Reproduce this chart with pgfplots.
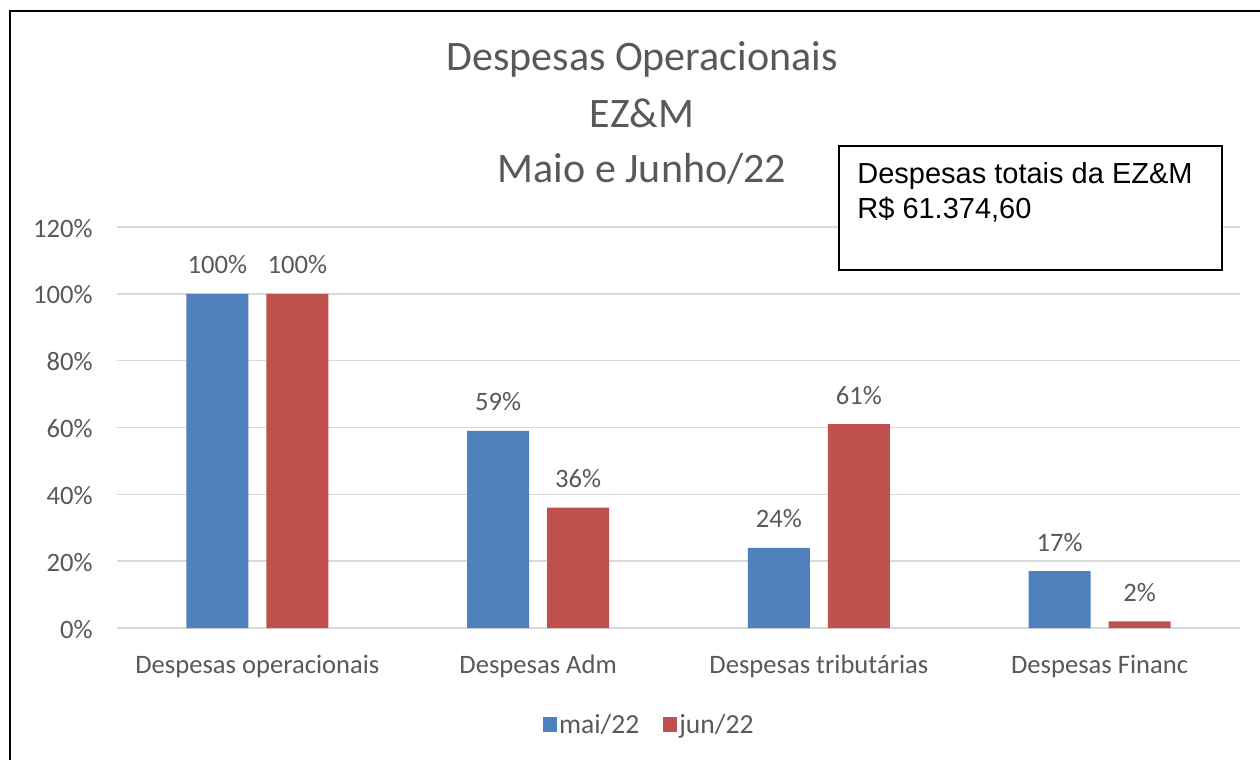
\documentclass[border=0pt]{standalone}
\usepackage{fontspec}
\setmainfont{Carlito}
\newfontfamily\arial{Liberation Sans}
\usepackage{pgfplots}
\pgfplotsset{compat=1.18}
\definecolor{barblue}{HTML}{4F81BD}
\definecolor{barred}{HTML}{C0504D}
\definecolor{txtgray}{HTML}{595959}
\definecolor{gridgray}{HTML}{D9D9D9}

\begin{document}
\begin{tikzpicture}[x=0.5pt,y=-0.5pt]
\useasboundingbox (0,0) rectangle (1260,760);
\fill[white] (0,0) rectangle (1260,760);
\coordinate (O) at (117,628);

\begin{axis}[
    at={(O)}, anchor=south west,
    scale only axis,
    width=561.5pt, height=200.5pt,
    ybar=9pt, bar width=31pt,
    xmin=-0.5, xmax=3.5,
    ymin=0, ymax=1.2,
    enlargelimits=false,
    axis line style={draw=none},
    major tick length=0pt,
    ymajorgrids,
    grid style={gridgray, line width=0.8pt},
    xtick={0,1,2,3},
    xticklabels={Despesas operacionais, Despesas Adm, Despesas tribut\'arias, Despesas Financ},
    ytick={0,0.2,0.4,0.6,0.8,1.0,1.2},
    yticklabels={0\%,20\%,40\%,60\%,80\%,100\%,120\%},
    tick label style={font=\fontsize{13.3}{15}\selectfont, text=txtgray, inner sep=0pt},
    xticklabel style={anchor=base, yshift=-22.5pt},
    yticklabel style={anchor=base east, xshift=-12pt, yshift=-5pt},
    point meta=explicit symbolic,
    nodes near coords,
    every node near coord/.append style={font=\fontsize{13.3}{15}\selectfont, text=txtgray,
        anchor=base, inner sep=0pt, yshift=10pt},
    legend columns=2,
    legend style={at={(0.474,-0.244)}, anchor=center, draw=none, fill=none,
        font=\fontsize{13.8}{15}\selectfont, text=txtgray,
        /tikz/every even column/.append style={column sep=11pt},
        nodes={inner sep=1pt}},
    legend image code/.code={\fill[#1] (0pt,-3pt) rectangle (7pt,4.5pt);},
]
% mai/22
\addplot[fill=barblue, draw=none]
    coordinates {(0,1.00) [100\%] (1,0.59) [59\%] (2,0.24) [24\%] (3,0.17) [17\%]};
\addlegendentry{mai/22}
% jun/22
\addplot[fill=barred, draw=none]
    coordinates {(0,1.00) [100\%] (1,0.36) [36\%] (2,0.61) [61\%] (3,0.02) [2\%]};
\addlegendentry{jun/22}
\end{axis}

% outer frame (cut off at right and bottom)
\draw[line width=1pt] (10,780) -- (10,11) -- (1280,11);

% title
\node[anchor=base, font=\fontsize{21}{24}\selectfont, text=txtgray] at (642,70) {Despesas Operacionais};
\node[anchor=base, font=\fontsize{21}{24}\selectfont, text=txtgray] at (642,127) {EZ\&M};
\node[anchor=base, font=\fontsize{21}{24}\selectfont, text=txtgray] at (642,182) {Maio e Junho/22};

% text box
\draw[line width=0.9pt, fill=white] (839,146) rectangle (1222,270);
\node[anchor=base west, inner sep=0pt, font=\arial\fontsize{14.5}{17}\selectfont] at (857,183) {Despesas totais da EZ\&M};
\node[anchor=base west, inner sep=0pt, font=\arial\fontsize{14.5}{17}\selectfont] at (857,218) {R\$ 61.374,60};
\end{tikzpicture}
\end{document}
